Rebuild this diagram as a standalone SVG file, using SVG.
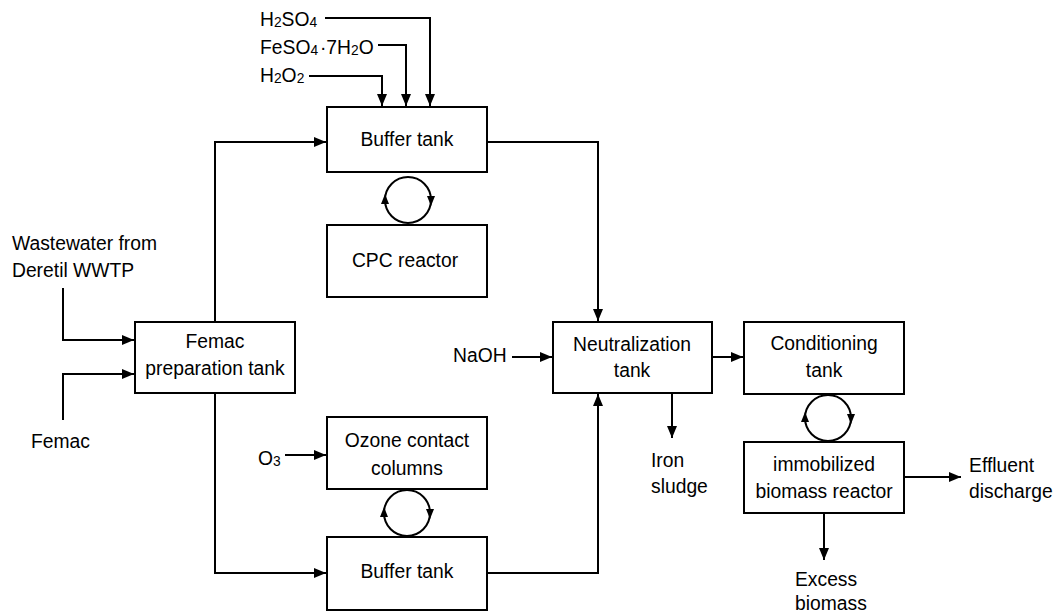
<svg xmlns="http://www.w3.org/2000/svg" width="1057" height="616" viewBox="0 0 1057 616">
<style>
.box{fill:#fff;stroke:#000;stroke-width:2}
.ln{fill:none;stroke:#000;stroke-width:2}
.t{font-family:"Liberation Sans",Arial,sans-serif;font-size:21px;fill:#000}
.c{text-anchor:middle}
.s{font-size:15px}
</style>
<defs>
<marker id="ah" markerUnits="userSpaceOnUse" markerWidth="13" markerHeight="10" refX="12" refY="5" orient="auto">
<path d="M0,0 L12,5 L0,10 Z" fill="#000"/>
</marker>
</defs>
<rect width="1057" height="616" fill="#fff"/>
<g id="connectors">
<polyline class="ln" points="325,18 430,18 430,106" marker-end="url(#ah)"/>
<polyline class="ln" points="378,45 406,45 406,106" marker-end="url(#ah)"/>
<polyline class="ln" points="309,76 382,76 382,106" marker-end="url(#ah)"/>
<polyline class="ln" points="63,288 63,340 134,340" marker-end="url(#ah)"/>
<polyline class="ln" points="63,420 63,374 134,374" marker-end="url(#ah)"/>
<polyline class="ln" points="215,322 215,142 326,142" marker-end="url(#ah)"/>
<polyline class="ln" points="215,393 215,573 326,573" marker-end="url(#ah)"/>
<polyline class="ln" points="487,142 598,142 598,321" marker-end="url(#ah)"/>
<polyline class="ln" points="487,573 598,573 598,394" marker-end="url(#ah)"/>
<line class="ln" x1="285" y1="455" x2="326" y2="455" marker-end="url(#ah)"/>
<line class="ln" x1="512" y1="357" x2="552" y2="357" marker-end="url(#ah)"/>
<line class="ln" x1="712" y1="357" x2="743" y2="357" marker-end="url(#ah)"/>
<line class="ln" x1="672" y1="393" x2="672" y2="438" marker-end="url(#ah)"/>
<line class="ln" x1="904" y1="477" x2="961" y2="477" marker-end="url(#ah)"/>
<line class="ln" x1="824" y1="513" x2="824" y2="560" marker-end="url(#ah)"/>
<circle class="ln" cx="408" cy="200" r="23"/>
<path d="M385,194 L381,204 L389,204 Z" fill="#000"/>
<path d="M431,206 L427,196 L435,196 Z" fill="#000"/>
<circle class="ln" cx="407" cy="513" r="23"/>
<path d="M384,507 L380,517 L388,517 Z" fill="#000"/>
<path d="M430,519 L426,509 L434,509 Z" fill="#000"/>
<circle class="ln" cx="828" cy="418" r="23"/>
<path d="M805,412 L801,422 L809,422 Z" fill="#000"/>
<path d="M851,424 L847,414 L855,414 Z" fill="#000"/>
</g>
<g id="buffer-top">
<rect class="box" x="327" y="107" width="160" height="65"/>
<text class="t c" transform="scale(0.92 1)" x="442.4" y="146">Buffer tank</text>
</g>
<g id="cpc">
<rect class="box" x="327" y="225" width="160" height="72"/>
<text class="t c" transform="scale(0.92 1)" x="440.2" y="267">CPC reactor</text>
</g>
<g id="femac-tank">
<rect class="box" x="135" y="322" width="160" height="71"/>
<text class="t c" transform="scale(0.92 1)" x="233.7" y="348">Femac</text>
<text class="t c" transform="scale(0.92 1)" x="233.7" y="375">preparation tank</text>
</g>
<g id="ozone">
<rect class="box" x="327" y="417" width="160" height="72"/>
<text class="t c" transform="scale(0.92 1)" x="442.4" y="447">Ozone contact</text>
<text class="t c" transform="scale(0.92 1)" x="442.4" y="475">columns</text>
</g>
<g id="buffer-bottom">
<rect class="box" x="327" y="537" width="160" height="73"/>
<text class="t c" transform="scale(0.92 1)" x="442.4" y="578">Buffer tank</text>
</g>
<g id="neutralization">
<rect class="box" x="553" y="322" width="159" height="71"/>
<text class="t c" transform="scale(0.92 1)" x="687" y="351">Neutralization</text>
<text class="t c" transform="scale(0.92 1)" x="687" y="377">tank</text>
</g>
<g id="conditioning">
<rect class="box" x="744" y="322" width="160" height="72"/>
<text class="t c" transform="scale(0.92 1)" x="895.7" y="350">Conditioning</text>
<text class="t c" transform="scale(0.92 1)" x="895.7" y="377">tank</text>
</g>
<g id="immobilized">
<rect class="box" x="744" y="442" width="160" height="71"/>
<text class="t c" transform="scale(0.92 1)" x="895.7" y="471">immobilized</text>
<text class="t c" transform="scale(0.92 1)" x="895.7" y="498">biomass reactor</text>
</g>
<g id="labels">
<text class="t" transform="scale(0.92 1)" x="282.6" y="26">H<tspan class="s" dy="1">2</tspan><tspan dy="-1">SO</tspan><tspan class="s" dy="1">4</tspan></text>
<text class="t" transform="scale(0.92 1)" x="282.6" y="54">FeSO<tspan class="s" dy="1">4</tspan><tspan dx="2" dy="-1">·7H</tspan><tspan class="s" dy="1">2</tspan><tspan dy="-1">O</tspan></text>
<text class="t" transform="scale(0.92 1)" x="282.6" y="82">H<tspan class="s" dy="1">2</tspan><tspan dy="-1">O</tspan><tspan class="s" dy="1">2</tspan></text>
<text class="t" transform="scale(0.92 1)" x="13" y="250">Wastewater from</text>
<text class="t" transform="scale(0.92 1)" x="13" y="277">Deretil WWTP</text>
<text class="t" transform="scale(0.92 1)" x="33.7" y="448">Femac</text>
<text class="t" transform="scale(0.92 1)" x="280.4" y="465">O<tspan class="s" dy="1">3</tspan></text>
<text class="t" transform="scale(0.92 1)" x="492.4" y="362">NaOH</text>
<text class="t" transform="scale(0.92 1)" x="707.6" y="467">Iron</text>
<text class="t" transform="scale(0.92 1)" x="707.6" y="493">sludge</text>
<text class="t" transform="scale(0.92 1)" x="1053.3" y="472">Effluent</text>
<text class="t" transform="scale(0.92 1)" x="1053.3" y="498">discharge</text>
<text class="t" transform="scale(0.92 1)" x="864.1" y="586">Excess</text>
<text class="t" transform="scale(0.92 1)" x="864.1" y="610">biomass</text>
</g>
</svg>
